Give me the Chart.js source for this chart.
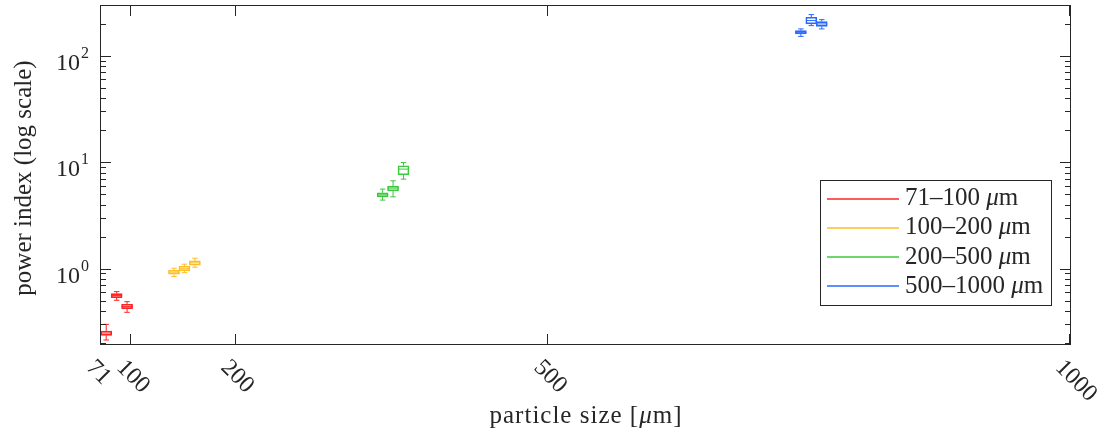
<!DOCTYPE html>
<html>
<head>
<meta charset="utf-8">
<script src="https://cdn.jsdelivr.net/npm/chart.js@4.4.0/dist/chart.umd.min.js"></script>
<style>
html, body { margin: 0; padding: 0; background: #fff; }
#wrap { width: 1107px; height: 433px; }
</style>
</head>
<body>
<div id="wrap"><canvas id="boxChart" width="1107" height="433"></canvas></div>
<script>
// size classes (legend)
var groupLabels = ['71\u2013100', '100\u2013200', '200\u2013500', '500\u20131000'];
var groupColors = ['rgb(255,35,35)', 'rgb(255,190,40)', 'rgb(60,200,60)', 'rgb(40,105,255)'];

// one entry per box
var boxX        = [76, 86, 96, 141, 151, 161, 341, 351, 361, 742, 752, 762];
var boxGroup    = [0, 0, 0, 1, 1, 1, 2, 2, 2, 3, 3, 3];
var whiskerLow  = [0.218, 0.515, 0.397, 0.86, 0.937, 1.053, 4.5, 4.83, 7.08, 155.5, 196.2, 182.7];
var quart1      = [0.241, 0.545, 0.43, 0.905, 0.972, 1.10, 4.83, 5.5, 7.78, 163.8, 203.5, 193.2];
var medians     = [0.254, 0.572, 0.451, 0.945, 1.02, 1.156, 5.04, 5.83, 8.8, 169.7, 218.8, 203.5];
var quart3      = [0.265, 0.594, 0.473, 0.987, 1.076, 1.207, 5.27, 6.09, 9.46, 176.1, 235, 213.8];
var whiskerHigh = [0.306, 0.621, 0.5, 1.03, 1.124, 1.28, 5.71, 6.83, 10.16, 182.7, 249, 223.4];

// axis ticks
var xTicks = [71, 100, 200, 500, 1000];
var yTicks = [1, 10, 100];
var yTickExp = ['0', '1', '2'];

var FONT = '"Liberation Serif", "Times New Roman", serif';
var AXIS_COLOR = '#262626';

var datasets = groupLabels.map(function (label, g) {
  var pts = [];
  for (var i = 0; i < boxX.length; i++) {
    if (boxGroup[i] !== g) continue;
    pts.push({ x: boxX[i], y: [quart1[i], quart3[i]], lo: whiskerLow[i], med: medians[i], hi: whiskerHigh[i] });
  }
  return {
    label: label,
    data: pts,
    backgroundColor: 'rgba(255,255,255,0)',
    borderColor: groupColors[g],
    borderWidth: 1,
    borderSkipped: false,
    barThickness: 11,
    grouped: false
  };
});

function drawRich(ctx, parts, x, y, align, size) {
  var widths = parts.map(function (p) {
    ctx.font = (p[1] ? 'italic ' : '') + size + 'px ' + FONT;
    return ctx.measureText(p[0]).width;
  });
  var total = widths.reduce(function (a, b) { return a + b; }, 0);
  var cx = align === 'center' ? x - total / 2 : x;
  ctx.textAlign = 'left';
  parts.forEach(function (p, i) {
    ctx.font = (p[1] ? 'italic ' : '') + size + 'px ' + FONT;
    ctx.fillText(p[0], cx, y);
    cx += widths[i];
  });
}

// whiskers, caps and medians on top of the boxes
var boxWhiskers = {
  id: 'boxWhiskers',
  afterDatasetsDraw: function (chart) {
    var ctx = chart.ctx, ys = chart.scales.y;
    chart.data.datasets.forEach(function (ds, di) {
      var meta = chart.getDatasetMeta(di);
      ctx.save();
      ctx.strokeStyle = ds.borderColor;
      ctx.lineWidth = 1;
      meta.data.forEach(function (bar, i) {
        var d = ds.data[i];
        var cx = bar.x, half = bar.width / 2, cap = half / 2;
        var pLo = ys.getPixelForValue(d.lo), pHi = ys.getPixelForValue(d.hi);
        var pQ1 = ys.getPixelForValue(d.y[0]), pQ3 = ys.getPixelForValue(d.y[1]);
        var pMed = ys.getPixelForValue(d.med);
        ctx.beginPath();
        ctx.moveTo(cx, pQ3); ctx.lineTo(cx, pHi);
        ctx.moveTo(cx, pQ1); ctx.lineTo(cx, pLo);
        ctx.moveTo(cx - cap, pHi); ctx.lineTo(cx + cap, pHi);
        ctx.moveTo(cx - cap, pLo); ctx.lineTo(cx + cap, pLo);
        ctx.moveTo(cx - half, pMed); ctx.lineTo(cx + half, pMed);
        ctx.stroke();
      });
      ctx.restore();
    });
  }
};

// matlab style axes box, inward ticks, labels and legend
var matlabAxes = {
  id: 'matlabAxes',
  afterDraw: function (chart) {
    var ctx = chart.ctx, a = chart.chartArea;
    var xs = chart.scales.x, ys = chart.scales.y;
    ctx.save();
    ctx.strokeStyle = AXIS_COLOR;
    ctx.lineWidth = 1;
    ctx.strokeRect(a.left - 0.5, a.top - 0.5, a.right - a.left + 1, a.bottom - a.top + 1);

    ctx.beginPath();
    xTicks.forEach(function (v) {
      var px = Math.round(xs.getPixelForValue(v)) - 0.5;
      ctx.moveTo(px, a.bottom); ctx.lineTo(px, a.bottom - 10);
      ctx.moveTo(px, a.top); ctx.lineTo(px, a.top + 10);
    });
    for (var d = -1; d <= 2; d++) {
      for (var m = 1; m <= 9; m++) {
        var v = m * Math.pow(10, d);
        if (v < ys.min || v > ys.max) continue;
        var py = Math.round(ys.getPixelForValue(v)) - 0.5;
        var len = m === 1 ? 10 : 5;
        ctx.moveTo(a.left, py); ctx.lineTo(a.left + len, py);
        ctx.moveTo(a.right, py); ctx.lineTo(a.right - len, py);
      }
    }
    ctx.stroke();

    ctx.fillStyle = AXIS_COLOR;
    // y tick labels 10^k
    yTicks.forEach(function (v, i) {
      var py = ys.getPixelForValue(v);
      ctx.font = '16px ' + FONT;
      var ew = ctx.measureText(yTickExp[i]).width;
      ctx.textAlign = 'right';
      ctx.textBaseline = 'alphabetic';
      ctx.fillText(yTickExp[i], 89, py + 1);
      ctx.font = '24px ' + FONT;
      ctx.fillText('10', 89 - ew - 1, py + 13);
    });

    // rotated x tick labels
    ctx.font = '24px ' + FONT;
    ctx.textAlign = 'left';
    ctx.textBaseline = 'middle';
    xTicks.forEach(function (v) {
      var px = xs.getPixelForValue(v);
      ctx.save();
      ctx.translate(px - 11, a.bottom + 20);
      ctx.rotate(Math.PI / 4);
      ctx.fillText(String(v), 0, 0);
      ctx.restore();
    });

    // axis titles
    ctx.textBaseline = 'middle';
    ctx.letterSpacing = '1px';
    drawRich(ctx, [['particle size [', false], ['\u03bc', true], ['m]', false]], 586, 416, 'center', 25);
    ctx.letterSpacing = '0px';
    ctx.save();
    ctx.translate(24, 178);
    ctx.rotate(-Math.PI / 2);
    ctx.textAlign = 'center';
    ctx.font = '25px ' + FONT;
    ctx.fillText('power index (log scale)', 0, 0);
    ctx.restore();

    // legend
    var lx = 820, ly = 180, lw = 231, lh = 125;
    ctx.fillStyle = '#fff';
    ctx.fillRect(lx, ly, lw, lh);
    ctx.strokeStyle = AXIS_COLOR;
    ctx.lineWidth = 1;
    ctx.strokeRect(lx + 0.5, ly + 0.5, lw, lh);
    groupLabels.forEach(function (label, g) {
      var ry = 198.5 + g * 29.3;
      ctx.strokeStyle = groupColors[g];
      ctx.lineWidth = 1.6;
      ctx.beginPath();
      ctx.moveTo(827, Math.round(ry)); ctx.lineTo(899, Math.round(ry));
      ctx.stroke();
      ctx.fillStyle = AXIS_COLOR;
      ctx.textBaseline = 'middle';
      drawRich(ctx, [[label + ' ', false], ['\u03bc', true], ['m', false]], 905, ry, 'left', 25);
    });
    ctx.restore();
  }
};

new Chart(document.getElementById('boxChart').getContext('2d'), {
  type: 'bar',
  data: { datasets: datasets },
  options: {
    responsive: false,
    animation: false,
    layout: { padding: { top: 6, right: 37, bottom: 0, left: 0 } },
    plugins: { legend: { display: false }, tooltip: { enabled: false } },
    scales: {
      x: {
        type: 'linear',
        min: 71,
        max: 1000,
        offset: false,
        grid: { display: false },
        border: { display: false },
        ticks: { display: false },
        afterFit: function (s) { s.height = 89; }
      },
      y: {
        type: 'logarithmic',
        min: 0.2,
        max: 300,
        grid: { display: false },
        border: { display: false },
        ticks: { display: false },
        afterFit: function (s) { s.width = 101; }
      }
    }
  },
  plugins: [boxWhiskers, matlabAxes]
});
</script>
</body>
</html>
